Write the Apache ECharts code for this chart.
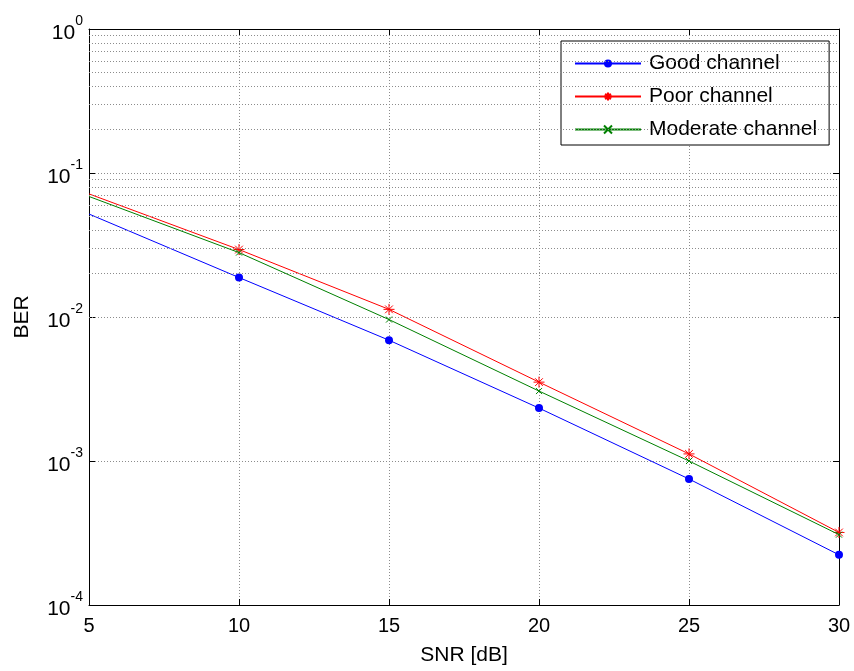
<!DOCTYPE html>
<html><head><meta charset="utf-8">
<script src="https://cdn.jsdelivr.net/npm/echarts@6/dist/echarts.min.js"></script>
<style>html,body{margin:0;padding:0;background:#fff}#c{width:854px;height:671px}</style>
</head><body><div id="c"></div>
<script>
const snr = [5, 10, 15, 20, 25, 30];
const goodBER = [0.0519, 0.0188, 0.0069, 0.00233, 0.00075, 0.000223];
const poorBER = [0.0716, 0.0294, 0.0113, 0.00353, 0.00112, 0.000319];
const moderateBER = [0.0687, 0.0280, 0.0096, 0.00306, 0.00100, 0.000308];
const seriesNames = ['Good channel', 'Poor channel', 'Moderate channel'];
const seriesColors = ['#0000ff', '#ff0000', '#008000'];
const xTicks = [5, 10, 15, 20, 25, 30];
const minorGrid = [];
[-4, -3, -2, -1].forEach(e => { for (let m = 2; m <= 9; m++) minorGrid.push(m * Math.pow(10, e)); });

const FONT = 'Liberation Sans, Arial, sans-serif';
const grid = { left: 89, right: 15, top: 29, bottom: 63 };
function pts(arr) {
  return snr.map((x, i) => i === 0 ? { value: [x, arr[i]], symbol: 'none' } : [x, arr[i]]);
}
const starPath = 'path://M0,-10L0,10M-10,0L10,0M-7,-7L7,7M-7,7L7,-7';
const xPath = 'path://M-10,-10L10,10M-10,10L10,-10';
const dotted = { color: '#8c8c8c', type: [1, 2], width: 1 };

const chart = echarts.init(document.getElementById('c'), null, { renderer: 'canvas' });
chart.setOption({
  animation: false,
  backgroundColor: '#fff',
  grid: grid,
  legend: {
    orient: 'vertical', left: 561, top: 41,
    padding: [12, 12, 5, 13],
    itemWidth: 66, itemHeight: 10, itemGap: 12,
    borderColor: '#000', borderWidth: 1, backgroundColor: '#fff',
    textStyle: { fontFamily: FONT, fontSize: 21, color: '#000', padding: [0, 0, 0, 3] },
    data: seriesNames
  },
  xAxis: [{
    type: 'value', min: 5, max: 30, interval: 5,
    name: 'SNR [dB]', nameLocation: 'middle', nameGap: 40,
    nameTextStyle: { fontFamily: FONT, fontSize: 21, color: '#000' },
    axisLine: { show: true, lineStyle: { color: '#000', width: 1 } },
    axisTick: { show: true, inside: true, length: 6, lineStyle: { color: '#000' } },
    axisLabel: { fontFamily: FONT, fontSize: 20, color: '#000', margin: 11,
      customValues: xTicks },
    splitLine: { show: true, lineStyle: dotted }
  }, {
    type: 'value', min: 5, max: 30, interval: 5, position: 'top',
    axisLine: { show: true, onZero: false, lineStyle: { color: '#000', width: 1 } },
    axisTick: { show: true, inside: true, length: 6, lineStyle: { color: '#000' } },
    axisLabel: { show: false }, splitLine: { show: false }
  }],
  yAxis: [{
    type: 'log', logBase: 10, min: 1e-4, max: 1, splitNumber: 4,
    name: 'BER', nameLocation: 'middle', nameGap: 56, nameRotate: 90,
    nameTextStyle: { fontFamily: FONT, fontSize: 21, color: '#000' },
    axisLine: { show: true, lineStyle: { color: '#000', width: 1 } },
    axisTick: { show: true, inside: true, length: 6, lineStyle: { color: '#000' } },
    axisLabel: {
      margin: 6,
      formatter: v => '{b|10}{s|' + Math.round(Math.log10(v)) + '}',
      rich: {
        b: { fontFamily: FONT, fontSize: 21, color: '#000', padding: [8, 0, 0, 0] },
        s: { fontFamily: FONT, fontSize: 14, color: '#000', verticalAlign: 'top', padding: [0, 0, 12, 0] }
      }
    },
    splitLine: { show: true, lineStyle: dotted }
  }, {
    type: 'log', logBase: 10, min: 1e-4, max: 1, splitNumber: 4, position: 'right',
    axisLine: { show: true, lineStyle: { color: '#000', width: 1 } },
    axisTick: { show: true, inside: true, length: 6, lineStyle: { color: '#000' } },
    axisLabel: { show: false }, splitLine: { show: false }
  }],
  series: [{
    name: seriesNames[0], type: 'line', data: pts(goodBER),
    symbol: 'circle', symbolSize: 8, showAllSymbol: true,
    lineStyle: { color: seriesColors[0], width: 1 },
    itemStyle: { color: seriesColors[0] },
    markLine: {
      silent: true, symbol: 'none', animation: false,
      label: { show: false },
      lineStyle: dotted,
      data: minorGrid.map(v => ({ yAxis: v }))
    },
    z: 3
  }, {
    name: seriesNames[1], type: 'line', data: pts(poorBER),
    symbol: starPath, symbolSize: 11,
    lineStyle: { color: seriesColors[1], width: 1 },
    itemStyle: { color: 'rgba(0,0,0,0)', borderColor: seriesColors[1], borderWidth: 1 },
    z: 4
  }, {
    name: seriesNames[2], type: 'line', data: pts(moderateBER),
    symbol: xPath, symbolSize: 6,
    lineStyle: { color: seriesColors[2], width: 1 },
    itemStyle: { color: 'rgba(0,0,0,0)', borderColor: seriesColors[2], borderWidth: 1 },
    z: 5
  }]
});
</script></body></html>
